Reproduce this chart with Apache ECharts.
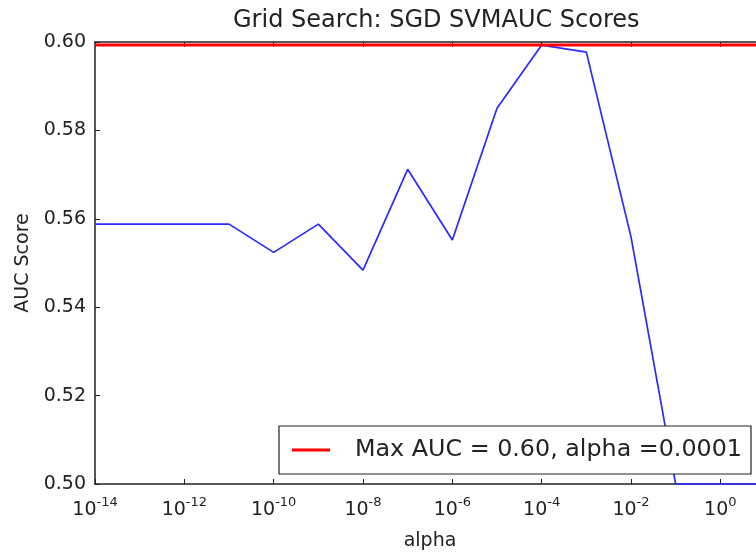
<!DOCTYPE html>
<html>
<head>
<meta charset="utf-8">
<script src="https://cdn.jsdelivr.net/npm/echarts@6/dist/echarts.min.js"></script>
<style>
  html, body { margin: 0; padding: 0; background: #fff; }
  #chart { width: 756px; height: 556px; }
</style>
</head>
<body>
<div id="chart"></div>
<script>
var chart = echarts.init(document.getElementById('chart'));

// grid search results: alpha vs AUC
var alphas = [1e-14, 1e-13, 1e-12, 1e-11, 1e-10, 1e-9, 1e-8, 1e-7, 1e-6, 1e-5, 1e-4, 1e-3, 1e-2, 1e-1, 1e0, 1e1];
var scores = [0.5588, 0.5588, 0.5588, 0.5588, 0.5524, 0.5588, 0.5484, 0.5712, 0.5552, 0.5850, 0.5993, 0.5977, 0.5559, 0.5000, 0.5000, 0.5000];
var maxAuc = 0.5993;
var maxLabel = 'Max AUC = 0.60, alpha =0.0001';
var xRange = [1e-14, 1e1];

var fontFam = 'DejaVu Sans';
var axisColor = '#222';

var lineData = alphas.map(function (a, i) { return [a, scores[i]]; });
var maxData = xRange.map(function (a) { return [a, maxAuc]; });

function powLabel(v) {
    var e = Math.round(Math.log10(v));
    if (e > 0) return '';
    return '{b|10}{s|' + e + '}';
}

var xBase = {
    type: 'log',
    logBase: 10,
    min: xRange[0],
    max: xRange[1],
    interval: 2,
    axisLine: { show: true, onZero: false, lineStyle: { color: axisColor, width: 1.5 } },
    axisTick: { show: true, inside: true, length: 5, lineStyle: { color: axisColor } },
    minorTick: { show: false },
    splitLine: { show: false }
};

option = {
    backgroundColor: '#fff',
    animation: false,
    title: {
        text: 'Grid Search: SGD SVMAUC Scores',
        left: 228,
        top: 4,
        textStyle: { fontFamily: fontFam, fontSize: 24, fontWeight: 'normal', color: '#222' }
    },
    // plot area runs past the right edge of the picture
    grid: { left: 95, top: 42, width: 670, bottom: 72, outerBoundsMode: 'none' },
    legend: {
        data: [{ name: maxLabel, icon: 'rect' }],
        left: 279,
        top: 426,
        padding: [12, 9, 12, 13],
        itemWidth: 38,
        itemHeight: 3,
        borderColor: '#222',
        borderWidth: 1.2,
        borderRadius: 0,
        backgroundColor: '#fff',
        textStyle: { fontFamily: fontFam, fontSize: 23.8, color: '#222', padding: [0, 0, 0, 20] }
    },
    xAxis: [
        Object.assign({}, xBase, {
            position: 'bottom',
            name: 'alpha',
            nameLocation: 'middle',
            nameGap: 48,
            nameTextStyle: { fontFamily: fontFam, fontSize: 19, color: '#222' },
            axisLabel: {
                margin: 12,
                formatter: powLabel,
                rich: {
                    b: { fontFamily: fontFam, fontSize: 19, color: '#222', lineHeight: 24, verticalAlign: 'bottom' },
                    s: { fontFamily: fontFam, fontSize: 13, color: '#222', lineHeight: 24, verticalAlign: 'top' }
                }
            }
        }),
        Object.assign({}, xBase, {
            position: 'top',
            axisLabel: { show: false }
        })
    ],
    yAxis: [
        {
            type: 'value',
            min: 0.5,
            max: 0.6,
            interval: 0.02,
            position: 'left',
            name: 'AUC Score',
            nameLocation: 'middle',
            nameGap: 62,
            nameTextStyle: { fontFamily: fontFam, fontSize: 19, color: '#222' },
            axisLine: { show: true, lineStyle: { color: axisColor, width: 1.5 } },
            axisTick: { show: true, inside: true, length: 5, lineStyle: { color: axisColor } },
            axisLabel: {
                margin: 9,
                fontFamily: fontFam,
                fontSize: 19,
                color: '#222',
                formatter: function (v) { return v.toFixed(2); }
            },
            splitLine: { show: false }
        },
        {
            type: 'value',
            min: 0.5,
            max: 0.6,
            interval: 0.02,
            position: 'right',
            axisLine: { show: true, lineStyle: { color: axisColor, width: 1.5 } },
            axisTick: { show: true, inside: true, length: 5, lineStyle: { color: axisColor } },
            axisLabel: { show: false },
            splitLine: { show: false }
        }
    ],
    series: [
        {
            name: 'AUC',
            type: 'line',
            data: lineData,
            showSymbol: false,
            clip: false,
            z: 3,
            lineStyle: { color: '#2a2aff', width: 1.7 }
        },
        {
            name: maxLabel,
            type: 'line',
            data: maxData,
            showSymbol: false,
            clip: false,
            z: 4,
            itemStyle: { color: '#ff0000' },
            lineStyle: { color: '#ff0000', width: 3 }
        }
    ]
};

chart.setOption(option);
</script>
</body>
</html>
